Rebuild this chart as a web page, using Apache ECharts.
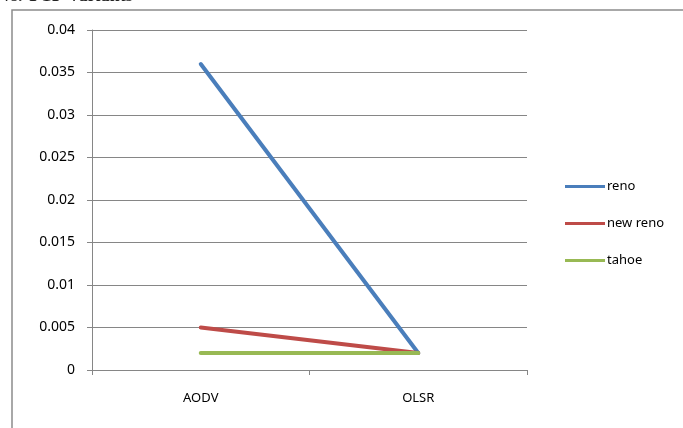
<!DOCTYPE html>
<html>
<head>
<meta charset="utf-8">
<script src="https://cdn.jsdelivr.net/npm/echarts@6/dist/echarts.min.js"></script>
<style>html,body{margin:0;padding:0;background:#fff}#c{width:683px;height:428px}</style>
</head>
<body>
<div id="c"></div>
<script>
const categories = ['AODV', 'OLSR'];
const seriesNames = ['reno', 'new reno', 'tahoe'];
const reno = [0.036, 0.002];
const newReno = [0.005, 0.002];
const tahoe = [0.002, 0.002];
const colors = ['#4a7ebb', '#be4b48', '#98b954'];

const chart = echarts.init(document.getElementById('c'));
const font = 'Noto Sans';
chart.setOption({
  backgroundColor: '#fff',
  animation: false,
  graphic: [
    { type: 'rect', shape: { x: 12, y: 10, width: 720, height: 460 }, style: { fill: 'none', stroke: '#8c8c8c', lineWidth: 1.5 }, z: -1 },
    { type: 'text', left: 2, top: -13, style: { text: 'vs. TCP Variants', font: 'bold 18px "Liberation Serif"', fill: '#222' } }
  ],
  grid: { left: 92, top: 30, right: 156, bottom: 58 },
  legend: {
    orient: 'vertical', left: 560, top: 175, itemWidth: 40, itemHeight: 3, itemGap: 24,
    icon: 'rect',
    textStyle: { fontFamily: font, fontSize: 13, color: '#000', padding: [0, 0, 0, -3] },
    data: seriesNames
  },
  xAxis: {
    type: 'category', data: categories, boundaryGap: true,
    axisLine: { lineStyle: { color: '#868686' } },
    axisTick: { show: true, length: 5, lineStyle: { color: '#868686' } },
    axisLabel: { fontFamily: font, fontSize: 13, color: '#000', margin: 22 }
  },
  yAxis: {
    type: 'value', min: 0, max: 0.04, interval: 0.005,
    axisLine: { show: true, lineStyle: { color: '#868686' } },
    axisTick: { show: true, length: 5, lineStyle: { color: '#868686' } },
    splitLine: { lineStyle: { color: '#868686' } },
    axisLabel: { fontFamily: font, fontSize: 14, color: '#000', margin: 17, formatter: v => String(+v.toFixed(3)) }
  },
  series: [
    { name: seriesNames[0], type: 'line', data: reno, color: colors[0], symbol: 'none', lineStyle: { width: 4, cap: 'round' } },
    { name: seriesNames[1], type: 'line', data: newReno, color: colors[1], symbol: 'none', lineStyle: { width: 4, cap: 'round' } },
    { name: seriesNames[2], type: 'line', data: tahoe, color: colors[2], symbol: 'none', lineStyle: { width: 4, cap: 'round' } }
  ]
});
</script>
</body>
</html>
